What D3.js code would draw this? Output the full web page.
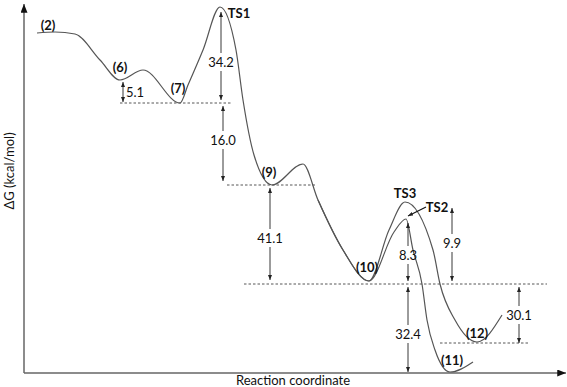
<!DOCTYPE html>
<html><head><meta charset="utf-8">
<script src="https://cdn.jsdelivr.net/npm/d3@7"></script>
<style>body{margin:0;background:#fff}svg{display:block}text{font-family:Lato,"Open Sans",sans-serif}</style>
</head><body><div id="c"></div>
<script>
// Reaction coordinate (arbitrary units) and schematic energy level (not to scale)
const mainCoord = [13,31,51,76,96,119,156,164,179,196,212,219,230,248,279,294,319,345];
const mainLevel = [340,341,339,313,293,303,270,288,323,366,323,273,218,188,209,173,123,92];
const ts3Coord = [365,381,409,416,431,453,478];
const ts3Level = [143,171,123,89,53,31,58];
const ts2Coord = [370,382,389,398,403,411,426,449];
const ts2Level = [141,154,123,89,53,23,1,11];

// stationary point labels
const stateNames = ["(2)","(6)","(7)","TS1","(9)","(10)","TS3","TS2","(12)","(11)"];
const stateCoord = [24,96,154,215,245,343,381,413,453,428];
const stateLevel = [348,306,285,360,201,106,180,166,40,13];

// reference (dashed) levels
const refLevel = [270,188,89,30];
const refFrom = [96,203,220,416];
const refTo = [208,291,523,504];

// energy differences (kcal/mol)
const gapLabels = ["5.1","34.2","16.0","41.1","8.3","32.4","9.9","30.1"];
const gapCoord = [99,197,199,246,384,384,428,495];
const gapTop = [291,361,267,185,150,86,165,86];
const gapBottom = [271,273,192,93,92,1,92,30];
const gapText = [281,311,233,135,118,39,130,58];

const W=567,H=387;
const svg=d3.select("#c").append("svg").attr("width",W).attr("height",H);
const x=d3.scaleLinear().domain([0,541]).range([24,565]);
const y=d3.scaleLinear().domain([0,368]).range([373,5]);

const defs=svg.append("defs");
defs.append("marker").attr("id","ah").attr("viewBox","0 0 10 8").attr("refX",10).attr("refY",4)
  .attr("markerWidth",5).attr("markerHeight",4).attr("markerUnits","userSpaceOnUse").attr("orient","auto")
  .append("path").attr("d","M0,0L10,4L0,8z").attr("fill","#222");
defs.append("marker").attr("id","axh").attr("viewBox","0 0 10 8").attr("refX",10).attr("refY",4)
  .attr("markerWidth",9).attr("markerHeight",7).attr("markerUnits","userSpaceOnUse").attr("orient","auto")
  .append("path").attr("d","M0,0L10,4L0,8z").attr("fill","#111");

// axes
svg.append("line").attr("x1",x(0)).attr("y1",y(0)).attr("x2",x(0)).attr("y2",y(368)-1)
  .attr("stroke","#666").attr("stroke-width",1.5).attr("marker-end","url(#axh)");
svg.append("line").attr("x1",x(0)).attr("y1",y(0)).attr("x2",x(541)+1).attr("y2",y(0))
  .attr("stroke","#666").attr("stroke-width",1.5).attr("marker-end","url(#axh)");

svg.append("text").attr("transform",`translate(14,${y(202)}) rotate(-90)`).attr("text-anchor","middle")
  .attr("font-size",13).attr("fill","#111").text("ΔG (kcal/mol)");
svg.append("text").attr("x",x(269)).attr("y",385).attr("text-anchor","middle")
  .attr("font-size",13).attr("fill","#111").text("Reaction coordinate");

// dashed reference lines
refLevel.forEach((l,i)=>{
  svg.append("line").attr("x1",x(refFrom[i])).attr("x2",x(refTo[i])).attr("y1",y(l)).attr("y2",y(l))
    .attr("stroke","#444").attr("stroke-width",0.9).attr("stroke-dasharray","2.5,2");
});

// curves: common path up to (10), then two branches (TS3 -> 12, TS2 -> 11)
const line=d3.line().x(d=>x(d[0])).y(d=>y(d[1])).curve(d3.curveMonotoneX);
const mainPts=d3.zip(mainCoord,mainLevel);
svg.append("path").attr("d",line(mainPts.concat(d3.zip(ts3Coord,ts3Level)))).attr("fill","none").attr("stroke","#555").attr("stroke-width",1.2);
svg.append("path").attr("d",line(mainPts.slice(-3).concat(d3.zip(ts2Coord,ts2Level)))).attr("fill","none").attr("stroke","#555").attr("stroke-width",1.2);

// gap arrows
gapLabels.forEach((lab,i)=>{
  const gx=x(gapCoord[i]), yt=y(gapTop[i]), yb=y(gapBottom[i]), ty=y(gapText[i]);
  if(i===0){
    svg.append("line").attr("x1",gx).attr("x2",gx).attr("y1",(yt+yb)/2).attr("y2",yt).attr("stroke","#222").attr("stroke-width",0.9).attr("marker-end","url(#ah)");
    svg.append("line").attr("x1",gx).attr("x2",gx).attr("y1",(yt+yb)/2).attr("y2",yb).attr("stroke","#222").attr("stroke-width",0.9).attr("marker-end","url(#ah)");
    svg.append("text").attr("x",gx+3).attr("y",ty+4.5).attr("font-size",13).attr("fill","#111").text(lab);
  } else {
    svg.append("line").attr("x1",gx).attr("x2",gx).attr("y1",ty-9).attr("y2",yt).attr("stroke","#222").attr("stroke-width",0.9).attr("marker-end","url(#ah)");
    svg.append("line").attr("x1",gx).attr("x2",gx).attr("y1",ty+9).attr("y2",yb).attr("stroke","#222").attr("stroke-width",0.9).attr("marker-end","url(#ah)");
    svg.append("text").attr("x",gx).attr("y",ty+4.5).attr("text-anchor","middle").attr("font-size",13).attr("fill","#111").text(lab);
  }
});

// TS2 pointer
svg.append("line").attr("x1",x(402)).attr("y1",y(166)).attr("x2",x(384)).attr("y2",y(157))
  .attr("stroke","#111").attr("stroke-width",1.2).attr("marker-end","url(#ah)");

// state labels
stateNames.forEach((n,i)=>{
  svg.append("text").attr("x",x(stateCoord[i])).attr("y",y(stateLevel[i])+4.5).attr("text-anchor","middle")
    .attr("font-size",13).attr("font-weight","bold").attr("fill","#111").text(n);
});
</script></body></html>
